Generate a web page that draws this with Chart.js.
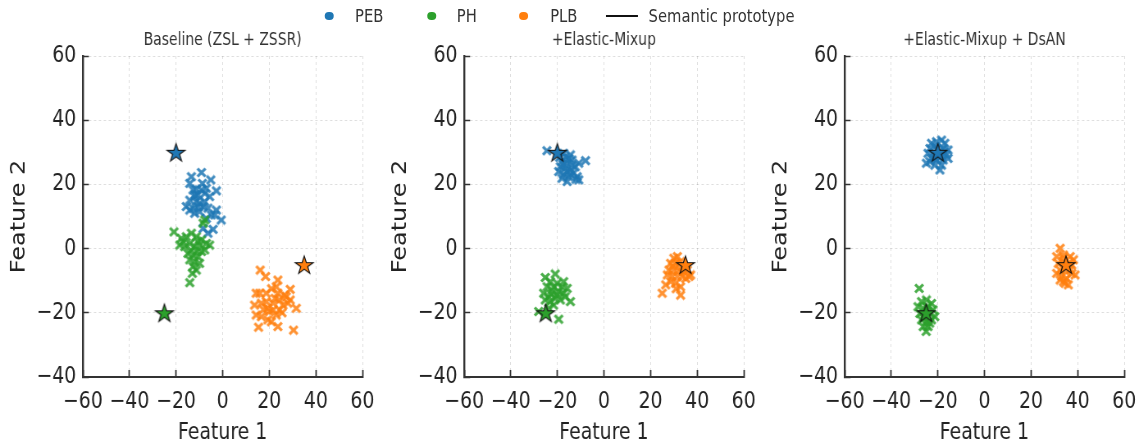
<!DOCTYPE html>
<html><head><meta charset="utf-8">
<script src="https://cdn.jsdelivr.net/npm/chart.js@4.4.1/dist/chart.umd.min.js"></script>
<style>
html,body{margin:0;padding:0;background:#fff;overflow:hidden;width:1142px;height:447px;}
#stage{position:absolute;left:0;top:0;width:1393px;height:447px;transform:scaleX(0.82);transform-origin:0 0;font-family:"DejaVu Sans",sans-serif;}
.pan{position:absolute;top:26px;}
.leg{position:absolute;top:6px;font-size:18px;line-height:20px;color:#333;white-space:nowrap;}
.dot{position:absolute;width:10.5px;height:8.6px;border-radius:50%;top:11.7px;}
.line{position:absolute;height:2px;top:15px;background:#111;}
</style></head>
<body>
<div id="stage">
  <div class="dot" style="left:396px;background:#1f77b4"></div>
  <div class="leg" style="left:433px">PEB</div>
  <div class="dot" style="left:521px;background:#2ca02c"></div>
  <div class="leg" style="left:557px">PH</div>
  <div class="dot" style="left:633px;background:#ff7f0e"></div>
  <div class="leg" style="left:671px">PLB</div>
  <div class="line" style="left:739px;width:39px"></div>
  <div class="leg" style="left:791px">Semantic prototype</div>
  <canvas id="c0" class="pan" width="462" height="421" style="left:0px"></canvas>
  <canvas id="c1" class="pan" width="462" height="421" style="left:465px"></canvas>
  <canvas id="c2" class="pan" width="462" height="421" style="left:929px"></canvas>
</div>
<script>
// ---------------- data ----------------
const classNames = ['PEB', 'PH', 'PLB'];
const classColors = ['#1f77b4', '#2ca02c', '#ff7f0e'];
const panelTitles = ['Baseline (ZSL + ZSSR)', '+Elastic-Mixup', '+Elastic-Mixup + DsAN'];
const xTickValues = [-60, -40, -20, 0, 20, 40, 60];
const xTickLabels = ['\u221260', '\u221240', '\u221220', '0', '20', '40', '60'];
const yTickValues = [-40, -20, 0, 20, 40, 60];
const yTickLabels = ['\u221240', '\u221220', '0', '20', '40', '60'];
const protoX = [-20, -25, 35];
const protoY = [30, -20, -5];

// Baseline (ZSL + ZSSR)
const p1PEB = [[-9.1,23.7],[-13.4,22.4],[-5.1,21.4],[-2.7,18.0],[-14.1,20.3],[-11.3,18.5],[-9.1,18.3],[-7.0,18.8],[-7.7,17.2],[-10.6,16.7],[-12.0,16.2],[-14.1,15.1],[-15.6,13.1],[-12.7,12.6],[-9.9,14.1],[-7.7,14.6],[-5.6,16.2],[-2.7,12.0],[-0.6,8.9],[-4.9,10.5],[-7.0,9.4],[-8.4,6.3],[-6.3,4.8],[-4.1,6.0],[-12.0,11.0],[-14.1,12.0],[-9.9,11.5],[-8.4,13.1],[-11.3,14.6],[-6.3,12.6],[-12.7,18.3],[-8.7,20.3],[-3.4,10.5],[-10.5,13.0],[-11.8,16.8]];
const p1PH = [[-20.9,5.2],[-7.7,8.9],[-8.4,7.9],[-17.7,3.2],[-15.6,3.7],[-13.4,4.8],[-11.3,3.7],[-9.1,2.7],[-7.0,1.6],[-5.6,1.1],[-18.4,1.1],[-16.3,0.6],[-14.1,1.6],[-12.0,0.6],[-9.9,1.1],[-7.7,-0.4],[-14.9,-1.5],[-12.7,-2.0],[-10.6,-2.5],[-9.1,-0.9],[-14.1,-3.5],[-12.0,-4.1],[-9.9,-4.6],[-12.7,-5.6],[-11.3,-6.7],[-13.0,-7.7],[-14.1,-10.6],[-17.0,2.1],[-10.6,2.2],[-13.5,-0.5],[-11.0,-1.0]];
const p1PLB = [[16.1,-6.7],[18.4,-8.7],[23.7,-9.8],[29.0,-12.7],[14.4,-13.9],[15.9,-13.9],[18.7,-13.9],[23.0,-11.9],[23.7,-13.9],[27.3,-15.0],[24.4,-16.0],[21.6,-17.0],[18.7,-16.5],[16.6,-17.0],[13.7,-17.6],[31.6,-18.6],[25.9,-17.6],[28.0,-17.0],[21.6,-19.1],[19.4,-18.6],[24.4,-19.1],[23.0,-20.7],[14.4,-20.7],[16.6,-21.2],[19.4,-22.2],[20.9,-22.8],[15.4,-24.5],[23.7,-24.3],[30.4,-25.4],[20.1,-19.6],[26.5,-14.5],[22.5,-15.5],[17.5,-19.0],[25.5,-20.0],[29.0,-16.0],[21.0,-12.5]];

// +Elastic-Mixup
const p2PEB = [[-24.5,30.5],[-7.9,27.4],[-10.8,26.6],[-14.4,29.2],[-16.6,28.6],[-18.0,27.1],[-15.8,26.6],[-13.7,27.6],[-18.7,25.5],[-16.6,25.0],[-14.4,24.5],[-12.3,25.5],[-19.4,24.0],[-17.3,23.0],[-15.1,22.4],[-13.0,23.5],[-10.8,21.4],[-15.8,20.9],[-18.0,21.9],[-11.5,22.4],[-15.1,28.1],[-17.3,29.7],[-13.7,26.0],[-16.0,24.0],[-17.5,26.2],[-14.5,23.2],[-19.0,28.4],[-12.0,21.6]];
const p2PH = [[-20.9,-7.9],[-25.2,-9.0],[-15.8,-12.4],[-14.4,-16.5],[-28.0,-19.6],[-19.4,-22.0],[-23.0,-10.3],[-20.1,-10.8],[-18.0,-11.9],[-24.4,-11.9],[-22.3,-12.9],[-19.4,-13.4],[-17.3,-13.9],[-25.9,-13.9],[-23.7,-15.0],[-20.9,-15.5],[-18.7,-16.0],[-23.0,-16.5],[-16.6,-15.0],[-21.6,-17.6],[-25.2,-16.0],[-20.1,-14.5],[-17.3,-10.3],[-23.7,-18.6],[-21.5,-12.0],[-22.5,-14.2]];
const p2PLB = [[25.0,-13.9],[26.5,-11.3],[32.9,-14.5],[30.0,-3.0],[37.2,-8.2],[31.5,-2.5],[28.6,-4.6],[30.7,-4.6],[32.9,-4.1],[27.9,-6.7],[30.0,-6.7],[32.2,-6.7],[34.3,-7.2],[35.8,-6.7],[29.3,-8.7],[31.5,-8.7],[33.6,-8.7],[28.6,-10.3],[30.7,-10.8],[32.9,-11.9],[35.1,-9.3],[27.2,-8.2],[33.6,-5.6],[36.5,-8.7],[31.0,-12.5],[29.5,-5.5]];

// +Elastic-Mixup + DsAN
const p3PEB = [[-24.9,26.6],[-19.1,24.5],[-18.4,33.8],[-22.7,32.8],[-20.6,33.3],[-17.0,32.8],[-23.4,31.2],[-21.3,31.8],[-17.7,31.2],[-15.6,30.7],[-24.2,29.7],[-22.0,29.7],[-19.1,30.2],[-16.3,29.2],[-22.7,28.1],[-20.6,27.6],[-17.7,27.6],[-15.6,28.1],[-23.4,27.1],[-21.3,26.0],[-18.4,26.0],[-19.9,28.6],[-20.5,31.0],[-18.5,29.0],[-21.5,28.5],[-17.2,30.0]];
const p3PH = [[-28.0,-12.4],[-27.0,-16.5],[-24.9,-16.0],[-22.7,-17.1],[-28.5,-18.1],[-26.3,-18.6],[-24.2,-18.1],[-22.0,-19.1],[-27.7,-20.2],[-25.6,-20.7],[-23.4,-20.2],[-21.3,-21.2],[-27.0,-22.2],[-24.9,-22.8],[-22.7,-22.2],[-26.3,-24.3],[-24.2,-24.3],[-25.0,-25.8],[-24.5,-19.5],[-26.0,-21.5],[-23.5,-23.2]];
const p3PLB = [[32.5,0.1],[38.9,-8.2],[34.6,-10.8],[31.0,-2.5],[33.9,-2.0],[36.8,-2.5],[38.2,-3.5],[31.7,-4.6],[33.9,-4.1],[36.0,-4.6],[37.5,-5.1],[32.5,-6.7],[34.6,-6.7],[36.8,-6.7],[31.0,-7.7],[33.2,-8.7],[35.3,-9.3],[37.5,-7.7],[33.9,-10.3],[36.0,-11.3],[32.5,-9.8],[35.0,-5.5],[34.0,-3.0]];

const panelData = [[p1PEB, p1PH, p1PLB], [p2PEB, p2PH, p2PLB], [p3PEB, p3PH, p3PLB]];

// ---------------- styling ----------------
const S = 0.82; // horizontal condensing of the whole stage
const FONT = '"DejaVu Sans", sans-serif';

function hexA(hex, a) {
  const n = parseInt(hex.slice(1), 16);
  return `rgba(${n >> 16},${(n >> 8) & 255},${n & 255},${a})`;
}
function makeX(color) {
  const c = document.createElement('canvas');
  c.width = 14; c.height = 11;
  const g = c.getContext('2d');
  g.translate(c.width / 2, c.height / 2);
  g.scale(1 / S, 1);
  g.strokeStyle = hexA(color, 0.85);
  g.lineWidth = 2.8;
  g.lineCap = 'butt';
  g.beginPath();
  g.moveTo(-4, -4); g.lineTo(4, 4);
  g.moveTo(-4, 4); g.lineTo(4, -4);
  g.stroke();
  return c;
}
function makeStar(color) {
  const c = document.createElement('canvas');
  c.width = 28; c.height = 23;
  const g = c.getContext('2d');
  g.translate(c.width / 2, c.height / 2 + 0.9);
  g.scale(1 / S, 1);
  const R = 9.5, r = R * 0.382;
  g.beginPath();
  for (let i = 0; i < 10; i++) {
    const rad = (i % 2 === 0) ? R : r;
    const a = -Math.PI / 2 + i * Math.PI / 5;
    const px = rad * Math.cos(a), py = rad * Math.sin(a);
    if (i === 0) g.moveTo(px, py); else g.lineTo(px, py);
  }
  g.closePath();
  g.fillStyle = color;
  g.fill();
  g.lineWidth = 1;
  g.strokeStyle = '#111';
  g.stroke();
  return c;
}
const xMarks = classColors.map(makeX);
const starMarks = classColors.map(makeStar);

function buildChart(id, k) {
  const datasets = [];
  panelData[k].forEach((pts, i) => {
    datasets.push({
      label: classNames[i],
      data: pts.map(p => ({x: p[0], y: p[1]})),
      pointStyle: xMarks[i],
      pointRadius: 4,
      order: 3 - i
    });
  });
  datasets.push({
    label: 'Semantic prototype',
    data: protoX.map((x, i) => ({x: x, y: protoY[i]})),
    pointStyle: starMarks,
    pointRadius: 8,
    order: 0
  });
  new Chart(document.getElementById(id), {
    type: 'scatter',
    data: {datasets},
    options: {
      responsive: false,
      animation: false,
      devicePixelRatio: 1,
      layout: {padding: {top: 0, left: 0, right: 20, bottom: 0}},
      plugins: {
        legend: {display: false},
        tooltip: {enabled: false},
        title: {
          display: true, text: panelTitles[k], fullSize: false,
          color: '#333', font: {family: FONT, size: 17, weight: 'normal'},
          padding: {top: 4.5, bottom: 5.1}
        }
      },
      scales: {
        x: {
          type: 'linear', position: 'bottom', min: -60, max: 60,
          afterFit: s => { s.height = 70; s.paddingLeft = 0; s.paddingRight = 0; },
          afterBuildTicks: s => { s.ticks = xTickValues.map(v => ({value: v})); },
          ticks: {
            font: {family: FONT, size: 23}, color: '#222', padding: 18,
            maxRotation: 0, autoSkip: false,
            callback: v => xTickLabels[xTickValues.indexOf(v)]
          },
          grid: {color: 'rgba(0,0,0,0.13)', lineWidth: 1, drawTicks: true, tickLength: -7, tickColor: '#333', tickWidth: 1.8},
          border: {display: true, color: '#333', width: 2, dash: [3, 3]},
          title: {display: true, text: 'Feature 1', color: '#222', font: {family: FONT, size: 23}, padding: {top: 0, bottom: 0}}
        },
        y: {
          type: 'linear', position: 'left', min: -40, max: 60,
          afterFit: s => { s.width = 101; },
          afterBuildTicks: s => { s.ticks = yTickValues.map(v => ({value: v})); },
          ticks: {
            font: {family: FONT, size: 23}, color: '#222', padding: 15.3,
            autoSkip: false,
            callback: v => yTickLabels[yTickValues.indexOf(v)]
          },
          grid: {color: 'rgba(0,0,0,0.13)', lineWidth: 1, drawTicks: true, tickLength: -7.3, tickColor: '#333', tickWidth: 1.5},
          border: {display: true, color: '#333', width: 2.4, dash: [3, 3]},
          title: {display: true, text: 'Feature 2', color: '#222', font: {family: FONT, size: 24}, padding: {top: 9.8, bottom: 0}}
        }
      }
    }
  });
}
buildChart('c0', 0);
buildChart('c1', 1);
buildChart('c2', 2);
</script>
</body></html>
